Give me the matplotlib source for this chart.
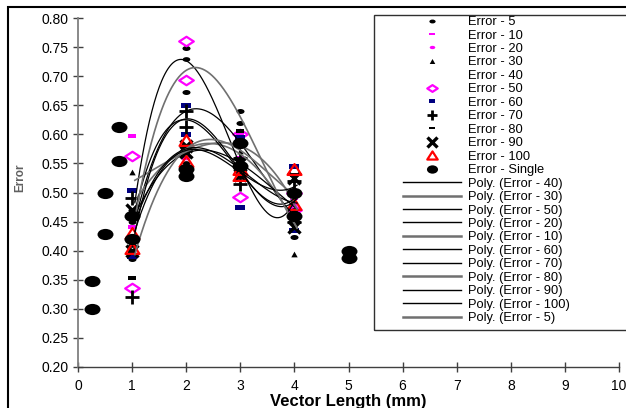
import numpy as np
import matplotlib
matplotlib.use("Agg")
import matplotlib.pyplot as plt
from matplotlib.path import Path
from matplotlib.lines import Line2D
from matplotlib.patches import Rectangle

plt.rcParams['font.family'] = ['Liberation Sans', 'DejaVu Sans']

# ---------------- data ----------------
x_levels = [1, 2, 3, 4]

err5_a = [0.385, 0.748, 0.640, 0.423]
err5_b = [0.470, 0.672, 0.620, 0.470]
err10_a = [0.597, 0.580, 0.560, 0.490]
err10_b = [0.440, 0.560, 0.600, 0.470]
err20_a = [0.460, 0.575, 0.560, 0.480]
err20_b = [0.440, 0.560, 0.540, 0.470]
err30_a = [0.535, 0.570, 0.572, 0.395]
err30_b = [0.420, 0.580, 0.560, 0.500]
err40_a = [0.410, 0.730, 0.590, 0.450]
err40_b = [0.450, 0.550, 0.580, 0.470]
err50_a = [0.562, 0.760, 0.493, 0.470]
err50_b = [0.335, 0.693, 0.600, 0.500]
err60_a = [0.505, 0.650, 0.595, 0.545]
err60_b = [0.390, 0.600, 0.475, 0.435]
err70_a = [0.490, 0.640, 0.515, 0.520]
err70_b = [0.320, 0.613, 0.560, 0.450]
err80_a = [0.353, 0.580, 0.605, 0.530]
err80_b = [0.400, 0.570, 0.540, 0.460]
err90_a = [0.470, 0.570, 0.550, 0.525]
err90_b = [0.400, 0.580, 0.530, 0.440]
err100_a = [0.430, 0.590, 0.530, 0.540]
err100_b = [0.405, 0.555, 0.540, 0.480]

single_x = [0.25, 0.25, 0.5, 0.5, 0.75, 0.75, 1, 1, 2, 2, 3, 3, 4, 4, 5, 5]
single_y = [0.300, 0.348, 0.428, 0.500, 0.555, 0.613, 0.460, 0.420,
            0.540, 0.528, 0.585, 0.545, 0.500, 0.460, 0.400, 0.388]

poly_order = ['40', '30', '50', '20', '10', '60', '70', '80', '90', '100', '5']
poly_gray = ['30', '10', '80', '5']

x_ticks = [0, 1, 2, 3, 4, 5, 6, 7, 8, 9, 10]
y_ticks = [0.20, 0.25, 0.30, 0.35, 0.40, 0.45, 0.50, 0.55, 0.60, 0.65, 0.70, 0.75, 0.80]

# ---------------- marker shapes ----------------
def ellipse(ry):
    p = Path.unit_circle()
    return Path(p.vertices * np.array([1.0, ry]), p.codes)

def rect(ry):
    return Path([(-1, -ry), (1, -ry), (1, ry), (-1, ry), (-1, -ry)],
                [Path.MOVETO, Path.LINETO, Path.LINETO, Path.LINETO, Path.CLOSEPOLY])

def diamond(ry):
    return Path([(0, ry), (1, 0), (0, -ry), (-1, 0), (0, ry)],
                [Path.MOVETO, Path.LINETO, Path.LINETO, Path.LINETO, Path.CLOSEPOLY])

def tri(ry):
    return Path([(-1, -ry), (1, -ry), (0, ry), (-1, -ry)],
                [Path.MOVETO, Path.LINETO, Path.LINETO, Path.CLOSEPOLY])

series = {
    '5':   (err5_a, err5_b, dict(marker=ellipse(0.62), ms=5.8, mfc='black', mec='black', mew=0)),
    '10':  (err10_a, err10_b, dict(marker=rect(0.45), ms=5.8, mfc='#ff00ff', mec='#ff00ff', mew=0)),
    '20':  (err20_a, err20_b, dict(marker=ellipse(0.6), ms=4.5, mfc='#ff00ff', mec='#ff00ff', mew=0)),
    '30':  (err30_a, err30_b, dict(marker=tri(0.9), ms=4.6, mfc='black', mec='black', mew=0)),
    '40':  (err40_a, err40_b, dict(marker=ellipse(0.62), ms=5.5, mfc='black', mec='black', mew=0)),
    '50':  (err50_a, err50_b, dict(marker=diamond(0.65), ms=10.5, mfc='none', mec='#ff00ff', mew=1.6)),
    '60':  (err60_a, err60_b, dict(marker=rect(0.5), ms=7.2, mfc='#000080', mec='#000080', mew=0)),
    '70':  (err70_a, err70_b, dict(marker='+', ms=10, mfc='black', mec='black', mew=2.0)),
    '80':  (err80_a, err80_b, dict(marker=rect(0.42), ms=5.2, mfc='black', mec='black', mew=0)),
    '90':  (err90_a, err90_b, dict(marker='x', ms=8, mfc='black', mec='black', mew=2.4)),
    '100': (err100_a, err100_b, dict(marker=tri(0.78), ms=10, mfc='none', mec='red', mew=1.6)),
}

# ---------------- figure ----------------
W, H = 626, 408
fig = plt.figure(figsize=(W / 100, H / 100), dpi=100)
ax = fig.add_axes([78 / W, 1 - 367 / H, (619 - 78) / W, (367 - 18) / H])

xx = np.concatenate([x_levels, x_levels])
xs = np.linspace(1.05, 4.05, 200)

# polynomial trendlines
for key in poly_order:
    a, b, st = series[key]
    yy = np.concatenate([a, b])
    c = np.polyfit(xx, yy, 3)
    gray = key in poly_gray
    ax.plot(xs, np.polyval(c, xs), color='#707070' if gray else 'black',
            lw=1.2 if gray else 0.9, zorder=3)

# markers
for key, (a, b, st) in series.items():
    ax.plot(xx, np.concatenate([a, b]), ls='none', zorder=2, **st)

ax.plot(single_x, single_y, ls='none', marker=ellipse(0.7), ms=11.5,
        mfc='black', mec='black', mew=0, zorder=4)

ax.set_xlim(0, 10)
ax.set_ylim(0.2, 0.8)
ax.set_xticks(x_ticks)
ax.set_xticklabels([str(t) for t in x_ticks])
ax.set_yticks(y_ticks)
ax.set_yticklabels([f"{t:.2f}" for t in y_ticks])
for s in ['top', 'right']:
    ax.spines[s].set_visible(False)
ax.spines['left'].set_color('#808080')
ax.spines['left'].set_linewidth(1.3)
ax.spines['bottom'].set_color('#404040')
ax.spines['bottom'].set_linewidth(1.0)
ax.tick_params(axis='y', direction='inout', length=7, width=1.0, color='#404040',
               labelsize=10, pad=3)
ax.tick_params(axis='x', direction='inout', length=7, width=1.0, color='#404040',
               labelsize=10, pad=5)
ax.set_xlabel('Vector Length (mm)', fontsize=12, fontweight='bold', labelpad=1)
fig.text(20 / W, 1 - 178 / H, 'Error', rotation=90, fontsize=8.5, fontweight='bold',
         color='#606060', ha='center', va='center')

# ---------------- legend ----------------
handles, labels = [], []
leg_sizes = {'50': 7.5, '100': 7.5, '70': 7.5, '90': 6.5, '60': 5, '10': 4.5,
             '20': 4, '30': 4, '5': 4.5, '80': 4.5}
for key in ['5', '10', '20', '30', '40', '50', '60', '70', '80', '90', '100']:
    st = dict(series[key][2])
    if key == '40':
        st['marker'] = 'none'
    else:
        st['ms'] = leg_sizes[key]
    handles.append(Line2D([], [], ls='none', **st))
    labels.append(f'Error - {key}')
handles.append(Line2D([], [], ls='none', marker=ellipse(0.75), ms=8, mfc='black', mec='black', mew=0))
labels.append('Error - Single')
for key in poly_order:
    gray = key in poly_gray
    handles.append(Line2D([], [], color='#707070' if gray else 'black', lw=1.8 if gray else 1.0))
    labels.append(f'Poly. (Error - {key})')

fig.legend(handles, labels, loc='upper left', bbox_to_anchor=(403 / W, 1 - 16 / H),
           frameon=False, fontsize=9.3, borderpad=0, borderaxespad=0,
           handlelength=4.5, handletextpad=0.55, labelspacing=0.11)

fig.add_artist(Rectangle((374 / W, 1 - 330 / H), (640 - 374) / W, (330 - 15) / H,
                         transform=fig.transFigure, fill=False, ec='#303030', lw=1.0))
# outer frame
fig.add_artist(Rectangle((8 / W, -0.05), 1.1, 1 - 7 / H + 0.05,
                         transform=fig.transFigure, fill=False, ec='black', lw=1.5))

fig.savefig('out.png', dpi=100)
